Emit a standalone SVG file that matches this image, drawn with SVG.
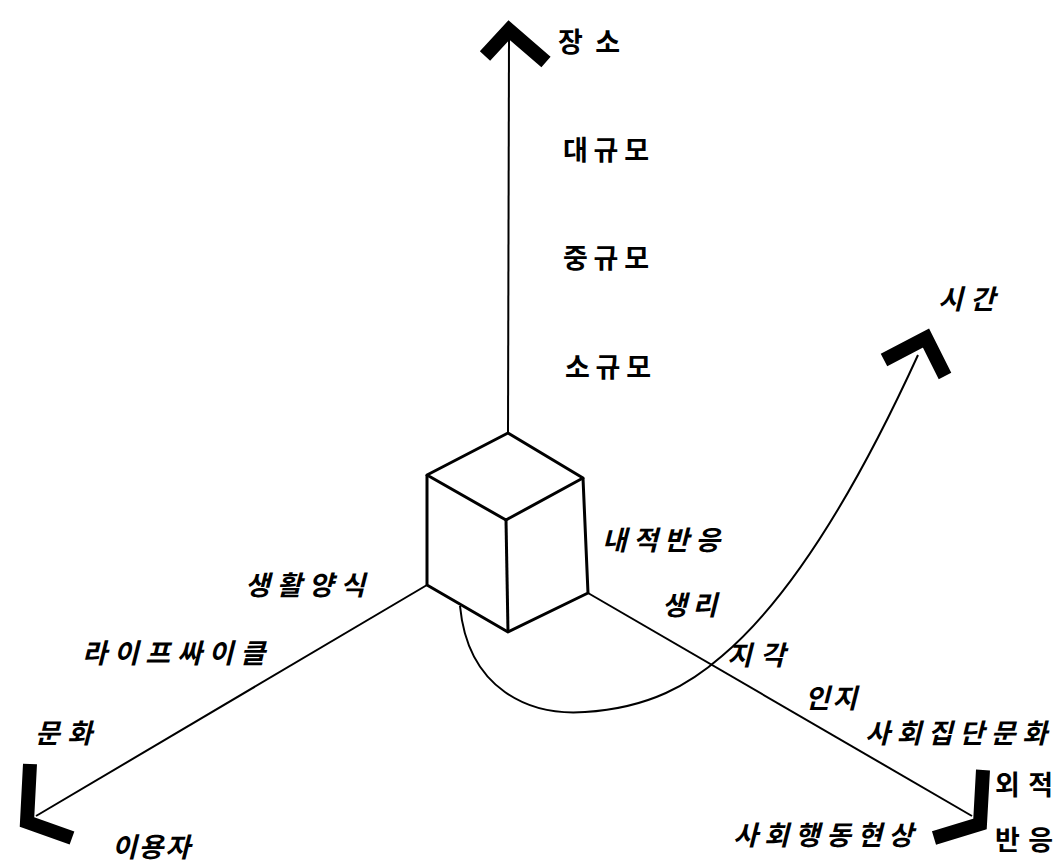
<svg xmlns="http://www.w3.org/2000/svg" width="1057" height="866" viewBox="0 0 1057 866">
<style>
.ax{fill:none;stroke:#000;stroke-width:2}
.cube{fill:none;stroke:#000;stroke-width:3;stroke-linejoin:round}
.head{fill:none;stroke:#000;stroke-width:14;stroke-linejoin:miter;stroke-linecap:butt}
text{font-family:"Noto Sans CJK KR","Noto Sans",sans-serif;font-size:27px;font-weight:bold;fill:#000}
.it{font-style:italic}
</style>
<rect width="1057" height="866" fill="#fff"/>
<g id="connectors">
<line class="ax" x1="509" y1="36" x2="508" y2="433"/>
<line class="ax" x1="427" y1="585" x2="36" y2="816"/>
<line class="ax" x1="588" y1="593" x2="972" y2="816"/>
<path class="ax" d="M460,606 C468,690 530,716 585,712 C650,708 690,684 722,656 C800,590 870,460 918,355"/>
<polyline class="head" points="485,56 509,30 546,62"/>
<polyline class="head" points="884,360 926,338 945,376"/>
<polyline class="head" points="30,764 27,822 72,838"/>
<polyline class="head" points="983,770 980,824 934,838"/>
</g>
<g id="cube">
<polygon class="cube" points="508,433 583,478 506,520 427,475" fill="#fff"/>
<polyline class="cube" points="427,475 427,585 508,632 588,593 583,478"/>
<line class="cube" x1="506" y1="520" x2="508" y2="632"/>
</g>
<g id="place-axis">
<text x="558" y="52" textLength="62">장소</text>
<text x="563" y="160" textLength="86">대규모</text>
<text x="563" y="268" textLength="86">중규모</text>
<text x="565" y="377" textLength="86">소규모</text>
</g>
<g id="time-axis">
<text class="it" x="938" y="309" textLength="57" font-size="23">시간</text>
</g>
<g id="response-axis">
<text class="it" x="602" y="550" textLength="118">내적반응</text>
<text class="it" x="662" y="615" textLength="55">생리</text>
<text class="it" x="727" y="665" textLength="58">지각</text>
<text class="it" x="805" y="708" textLength="52">인지</text>
<text class="it" x="865" y="743" textLength="182">사회집단문화</text>
<text class="it" x="733" y="845" textLength="180">사회행동현상</text>
<text x="995" y="795" textLength="58">외적</text>
<text x="995" y="850" textLength="58">반응</text>
</g>
<g id="user-axis">
<text class="it" x="245" y="595" textLength="120">생활양식</text>
<text class="it" x="82" y="663" textLength="183">라이프싸이클</text>
<text class="it" x="35" y="743" textLength="57">문화</text>
<text class="it" x="112" y="857" textLength="78">이용자</text>
</g>
</svg>
